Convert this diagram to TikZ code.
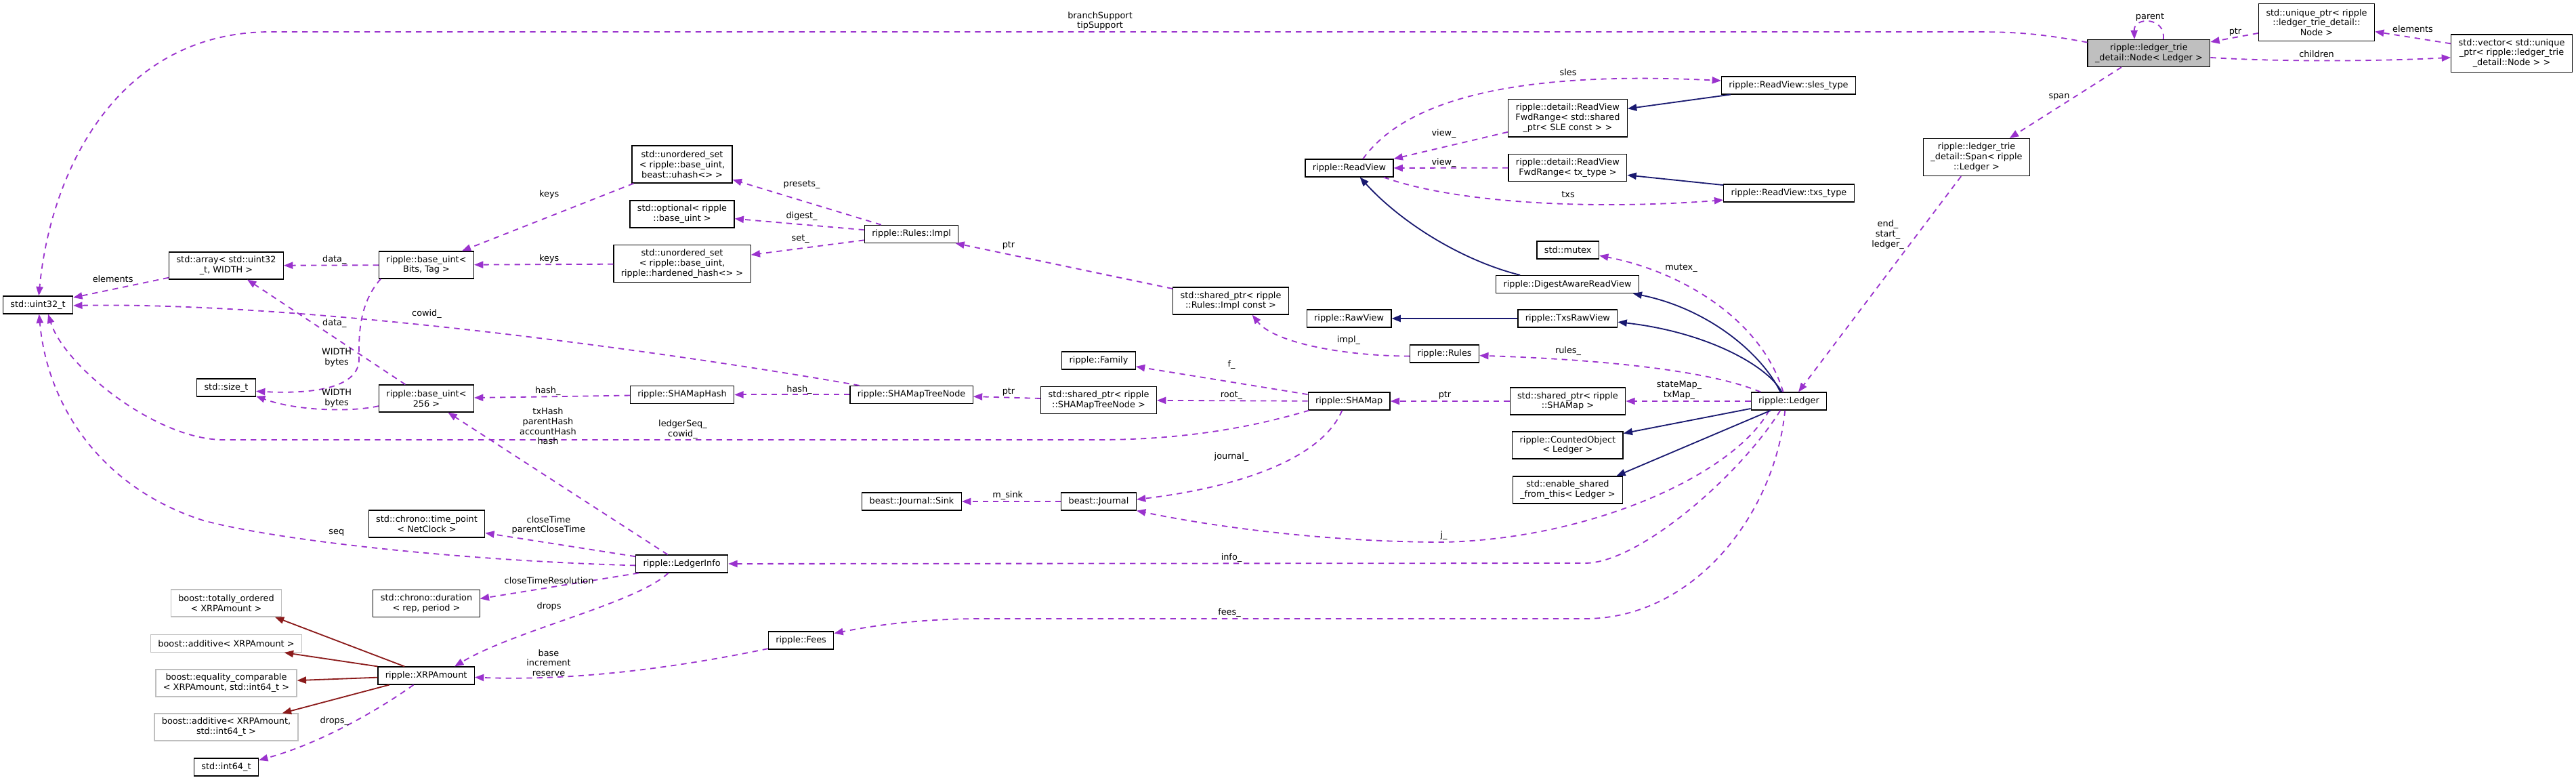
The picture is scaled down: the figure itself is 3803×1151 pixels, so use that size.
\documentclass[tikz,border=0pt]{standalone}
\usepackage{fontspec}
\setmainfont{DejaVu Sans}
\usetikzlibrary{arrows.meta}
\definecolor{memcol}{HTML}{9A32CD}
\definecolor{inhcol}{HTML}{191970}
\definecolor{extcol}{HTML}{8B1A1A}
\definecolor{boxgray}{HTML}{BFBFBF}
\begin{document}
\begin{tikzpicture}[x=0.41231pt, y=0.41231pt,
    cls/.style={draw=black, line width=0.5pt, fill=white, font=\fontsize{5.3}{6.1}\selectfont, align=center, inner xsep=4.5pt, inner ysep=1pt, minimum height=10.7pt},
    two/.style={minimum height=16.5pt},
    three/.style={minimum height=22.7pt},
    ext/.style={draw=boxgray},
    cur/.style={fill=boxgray},
    lbl/.style={font=\fontsize{5.3}{6.1}\selectfont, align=center, inner sep=0pt},
    mem/.style={draw=memcol, line width=0.75pt, dash pattern=on 3.4pt off 2.9pt, -{Triangle[length=5.5pt,width=4.2pt]}},
    inh/.style={draw=inhcol, line width=0.75pt, -{Triangle[length=5.5pt,width=4.2pt]}},
    inhr/.style={draw=extcol, line width=0.75pt, -{Triangle[length=5.5pt,width=4.2pt]}}]
    \useasboundingbox (0,0) rectangle (3803,-1151);

    \node[cls,two,cur] (trienode) at (3172.4,-78.6) {ripple::ledger\_trie\\\_detail::Node< Ledger >};
    \node[cls,three] (uptr) at (3420,-33.1) {std::unique\_ptr< ripple\\::ledger\_trie\_detail::\\Node >};
    \node[cls,three] (vec) at (3708,-78.6) {std::vector< std::unique\\\_ptr< ripple::ledger\_trie\\\_detail::Node > >};
    \node[cls,three] (span) at (2918,-232) {ripple::ledger\_trie\\\_detail::Span< ripple\\::Ledger >};
    \node[cls] (slestype) at (2640.5,-126) {ripple::ReadView::sles\_type};
    \node[cls,three] (fwdsle) at (2314.4,-174.4) {ripple::detail::ReadView\\FwdRange< std::shared\\\_ptr< SLE const > >};
    \node[cls] (readview) at (1992,-248) {ripple::ReadView};
    \node[cls,two] (fwdtx) at (2314.4,-247.6) {ripple::detail::ReadView\\FwdRange< tx\_type >};
    \node[cls] (txstype) at (2641,-285) {ripple::ReadView::txs\_type};
    \node[cls] (mutex) at (2314.7,-369) {std::mutex};
    \node[cls] (digest) at (2314,-419.5) {ripple::DigestAwareReadView};
    \node[cls] (rawview) at (1991.6,-470) {ripple::RawView};
    \node[cls] (txsraw) at (2314.4,-470) {ripple::TxsRawView};
    \node[cls] (rules) at (2132.6,-522) {ripple::Rules};
    \node[cls,two] (rulesptr) at (1817,-444) {std::shared\_ptr< ripple\\::Rules::Impl const >};
    \node[cls] (rulesimpl) at (1345.6,-345.3) {ripple::Rules::Impl};
    \node[cls,three] (usetuhash) at (1007,-242.5) {std::unordered\_set\\< ripple::base\_uint,\\ beast::uhash<> >};
    \node[cls,two] (optional) at (1007,-316) {std::optional< ripple\\::base\_uint >};
    \node[cls,three] (usethard) at (1007,-389.3) {std::unordered\_set\\< ripple::base\_uint,\\ ripple::hardened\_hash<> >};
    \node[cls,two] (bitsuint) at (629.5,-391) {ripple::base\_uint<\\Bits, Tag >};
    \node[cls,two] (arr) at (334,-392) {std::array< std::uint32\\\_t, WIDTH >};
    \node[cls] (uint) at (56,-450) {std::uint32\_t};
    \node[cls] (sizet) at (334,-572) {std::size\_t};
    \node[cls,two] (uint256) at (629.5,-588) {ripple::base\_uint<\\256 >};
    \node[cls] (shamaphash) at (1007,-582.4) {ripple::SHAMapHash};
    \node[cls] (treenode) at (1345.6,-582.4) {ripple::SHAMapTreeNode};
    \node[cls,two] (treeptr) at (1622,-590.5) {std::shared\_ptr< ripple\\::SHAMapTreeNode >};
    \node[cls] (family) at (1622,-532) {ripple::Family};
    \node[cls] (shamap) at (1991.6,-592) {ripple::SHAMap};
    \node[cls,two] (shamapptr) at (2314.4,-592) {std::shared\_ptr< ripple\\::SHAMap >};
    \node[cls] (ledger) at (2641,-592) {ripple::Ledger};
    \node[cls,two] (counted) at (2314.4,-657) {ripple::CountedObject\\< Ledger >};
    \node[cls,two] (enableshared) at (2314.4,-723) {std::enable\_shared\\\_from\_this< Ledger >};
    \node[cls] (sink) at (1346,-740) {beast::Journal::Sink};
    \node[cls] (journal) at (1622,-740) {beast::Journal};
    \node[cls] (ledgerinfo) at (1006.7,-832) {ripple::LedgerInfo};
    \node[cls] (fees) at (1182.6,-945) {ripple::Fees};
    \node[cls,two] (timepoint) at (630,-773) {std::chrono::time\_point\\< NetClock >};
    \node[cls,two] (duration) at (629.5,-890.4) {std::chrono::duration\\< rep, period >};
    \node[cls,two,ext] (totord) at (334,-890) {boost::totally\_ordered\\< XRPAmount >};
    \node[cls,ext] (additive) at (334,-949.4) {boost::additive< XRPAmount >};
    \node[cls,two,ext] (eqcomp) at (334,-1008) {boost::equality\_comparable\\< XRPAmount, std::int64\_t >};
    \node[cls,two,ext] (additive2) at (334,-1073) {boost::additive< XRPAmount,\\ std::int64\_t >};
    \node[cls] (xrp) at (629.2,-997) {ripple::XRPAmount};
    \node[cls] (int64) at (334,-1132) {std::int64\_t};

    \draw[mem] (trienode.170) .. controls (3000,-47) and (2960,-47) .. (2900,-47) -- (400,-47) .. controls (175,-47) and (75,-250) .. (uint);
    \draw[mem] (trienode.44) .. controls (3198,-25) and (3150,-24) .. (trienode.136);
    \draw[mem] (uptr) -- (trienode);
    \draw[mem] (vec) -- (uptr);
    \draw[mem] (trienode.-4) .. controls (3380,-92) and (3520,-90) .. (vec.184);
    \draw[mem] (trienode.207) -- (span.30);
    \draw[mem] (span.231) -- (ledger.44);
    \draw[mem] (readview.34) .. controls (2080,-140) and (2260,-105) .. (slestype.176);
    \draw[mem] (fwdsle.193) -- (readview.north east);
    \draw[inh] (slestype.189) -- (fwdsle.9);
    \draw[mem] (fwdtx) -- (readview);
    \draw[inh] (txstype.173) -- (fwdtx.-7);
    \draw[mem] (readview.-15) .. controls (2150,-300) and (2350,-310) .. (txstype.186);
    \draw[inh] (digest.169) .. controls (2160,-385) and (2070,-330) .. (readview.-41);
    \draw[inh] (ledger.133) .. controls (2600,-520) and (2520,-455) .. (digest.-8);
    \draw[inh] (ledger.128) .. controls (2610,-540) and (2520,-490) .. (txsraw.-4);
    \draw[inh] (txsraw) -- (rawview);
    \draw[mem] (ledger.122) .. controls (2600,-470) and (2480,-400) .. (mutex.-10);
    \draw[mem] (ledger.162) .. controls (2520,-545) and (2350,-530) .. (rules.-3);
    \draw[mem] (rules.184) .. controls (1980,-525) and (1880,-505) .. (rulesptr.-33);
    \draw[mem] (rulesptr) -- (rulesimpl);
    \draw[mem] (rulesimpl) -- (usetuhash);
    \draw[mem] (rulesimpl) -- (optional);
    \draw[mem] (rulesimpl) -- (usethard);
    \draw[mem] (usetuhash) -- (bitsuint);
    \draw[mem] (usethard) -- (bitsuint);
    \draw[mem] (bitsuint) -- (arr);
    \draw[mem] (arr) -- (uint);
    \draw[mem] (uint256) -- (arr);
    \draw[mem] (bitsuint.197) .. controls (528,-450) and (530,-500) .. (530,-530) .. controls (530,-570) and (470,-582) .. (sizet.-7);
    \draw[mem] (uint256.189) .. controls (520,-608) and (440,-607) .. (sizet.-16);
    \draw[mem] (treenode.170) .. controls (1050,-530) and (480,-445) .. (uint.-1);
    \draw[mem] (treenode) -- (shamaphash);
    \draw[mem] (shamaphash) -- (uint256);
    \draw[mem] (treeptr) -- (treenode);
    \draw[mem] (shamap) -- (treeptr);
    \draw[mem] (shamap) -- (family);
    \draw[mem] (shamap.193) .. controls (1850,-630) and (1750,-649) .. (1620,-649) -- (330,-649) .. controls (230,-649) and (95,-540) .. (uint.-42);
    \draw[mem] (ledgerinfo) -- (uint256);
    \draw[mem] (shamap.233) .. controls (1950,-680) and (1820,-720) .. (journal.3);
    \draw[mem] (journal) -- (sink);
    \draw[mem] (ledger.205) .. controls (2560,-700) and (2350,-795) .. (2131.6,-800) .. controls (1950,-800) and (1780,-775) .. (journal.south east);
    \draw[mem] (ledger.227) .. controls (2570,-700) and (2420,-831) .. (2340,-831) -- (ledgerinfo);
    \draw[mem] (ledger.247) .. controls (2620,-760) and (2500,-913) .. (2340,-913) -- (1450,-913) .. controls (1350,-913) and (1280,-925) .. (fees.12);
    \draw[mem] (fees.194) .. controls (1000,-985) and (850,-1005) .. (xrp.-2);
    \draw[mem] (ledgerinfo.182) .. controls (700,-828) and (420,-800) .. (300,-768) .. controls (150,-720) and (70,-600) .. (uint.-83);
    \draw[mem] (ledgerinfo) -- (timepoint);
    \draw[mem] (ledgerinfo.192) -- (duration.5);
    \draw[mem] (ledgerinfo.214) .. controls (940,-890) and (760,-930) .. (xrp.18);
    \draw[mem] (xrp.216) .. controls (570,-1040) and (480,-1095) .. (int64.12);
    \draw[inhr] (xrp.157) -- (totord.-16);
    \draw[inhr] (xrp.north west) -- (additive.-9);
    \draw[inhr] (xrp) -- (eqcomp);
    \draw[inhr] (xrp.194) -- (additive2.14);
    \draw[mem] (ledger) -- (shamapptr);
    \draw[mem] (shamapptr) -- (shamap);
    \draw[inh] (ledger.191) -- (counted.12);
    \draw[inh] (ledger.207) -- (enableshared.16);

    \node[lbl] (lsupport) at (1624,-31) {branchSupport\\tipSupport};
    \node[lbl] (lparent) at (3174,-25) {parent};
    \node[lbl] (lptr) at (3300,-47) {ptr};
    \node[lbl] (lelements) at (3562,-42.5) {elements};
    \node[lbl] (lchildren) at (3420,-79.5) {children};
    \node[lbl] (lspan) at (3040,-143.5) {span};
    \node[lbl] (lend) at (2787,-346) {end\_\\start\_\\ledger\_};
    \node[lbl] (lsles) at (2315,-107) {sles};
    \node[lbl] (lview) at (2131.6,-197) {view\_};
    \node[lbl] (lviewtx) at (2131.6,-240.4) {view\_};
    \node[lbl] (ltxs) at (2315,-286.7) {txs};
    \node[lbl] (lmutex) at (2482,-396) {mutex\_};
    \node[lbl] (lrules) at (2315,-518.6) {rules\_};
    \node[lbl] (limpl) at (1991,-502) {impl\_};
    \node[lbl] (lptrimpl) at (1489,-362.5) {ptr};
    \node[lbl] (lpresets) at (1183.5,-273) {presets\_};
    \node[lbl] (ldigest) at (1183.5,-319) {digest\_};
    \node[lbl] (lset) at (1181.7,-352.5) {set\_};
    \node[lbl] (lkeys) at (810.7,-286.7) {keys};
    \node[lbl] (lkeyshard) at (810.7,-382) {keys};
    \node[lbl] (ldata) at (493.8,-383.6) {data\_};
    \node[lbl] (lelem) at (166.6,-411.3) {elements};
    \node[lbl] (ldata256) at (493.8,-477) {data\_};
    \node[lbl] (lwidth) at (497,-528) {WIDTH\\bytes};
    \node[lbl] (lwidth256) at (497,-588) {WIDTH\\bytes};
    \node[lbl] (lcowid) at (630,-463) {cowid\_};
    \node[lbl] (lhashtree) at (1180,-575) {hash\_};
    \node[lbl] (lhash) at (808.8,-577) {hash\_};
    \node[lbl] (lptrtree) at (1489,-578.8) {ptr};
    \node[lbl] (lroot) at (1818,-583.7) {root\_};
    \node[lbl] (lf) at (1818,-538) {f\_};
    \node[lbl] (lseqcowid) at (1008,-633.5) {ledgerSeq\_\\cowid\_};
    \node[lbl] (lhashes) at (809,-629) {txHash\\parentHash\\accountHash\\hash};
    \node[lbl] (ljournal) at (1818,-674) {journal\_};
    \node[lbl] (lsink) at (1487.7,-731.5) {m\_sink};
    \node[lbl] (lj) at (2131.6,-790) {j\_};
    \node[lbl] (linfo) at (1818,-823) {info\_};
    \node[lbl] (lfees) at (1815,-904) {fees\_};
    \node[lbl] (lbase) at (810,-978) {base\\increment\\reserve};
    \node[lbl] (lseq) at (496.8,-786) {seq};
    \node[lbl] (lclose) at (810,-775) {closeTime\\parentCloseTime};
    \node[lbl] (lres) at (810.6,-856.6) {closeTimeResolution};
    \node[lbl] (ldrops) at (810.6,-894.7) {drops};
    \node[lbl] (ldrops64) at (493.8,-1064) {drops\_};
    \node[lbl] (lmaps) at (2479,-576) {stateMap\_\\txMap\_};
    \node[lbl] (lptrmap) at (2133,-583.4) {ptr};
\end{tikzpicture}
\end{document}
